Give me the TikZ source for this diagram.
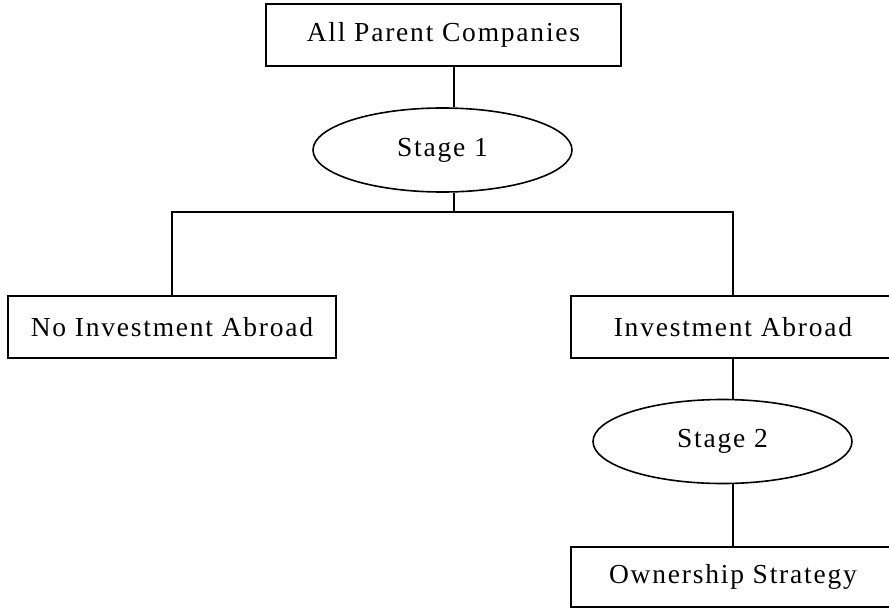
\documentclass[tikz,border=0pt]{standalone}
\usepackage{fontspec}
\setmainfont{Liberation Serif}[LetterSpace=6.5]
\usetikzlibrary{shapes.geometric}

\begin{document}
\begin{tikzpicture}[
  x=1pt, y=-1pt,
  font=\fontsize{27.5}{33}\selectfont,
  line width=1.6pt,
  box/.style={rectangle, draw, align=center, minimum height=62pt, inner sep=0pt},
  stage/.style={ellipse, draw, align=center, minimum width=259pt, minimum height=84pt, inner sep=0pt}
]
\useasboundingbox (0,0) rectangle (889,610);
\clip (0,0) rectangle (889,610);

\node[box, minimum width=355pt] (all) at (443.5,35) {All Parent Companies};
\node[stage] (st1) at (442.5,150) {Stage 1};
\node[box, minimum width=328pt] (noinv) at (172,327) {No Investment Abroad};
\node[box, minimum width=324pt] (inv) at (733,327) {Investment Abroad};
\node[stage] (st2) at (722.5,441.5) {Stage 2};
\node[box, minimum width=324pt, minimum height=60pt] (own) at (733,577) {Ownership Strategy};

\coordinate (split) at (454,212);

\draw (all.south -| split) -- (st1.north -| split);
\draw (st1.south -| split) -- (split);
\draw (noinv.north) |- (split) -| (inv.north);
\draw (inv.south) -- (inv.south |- st2.north);
\draw (st2.south -| own.north) -- (own.north);

\end{tikzpicture}
\end{document}
